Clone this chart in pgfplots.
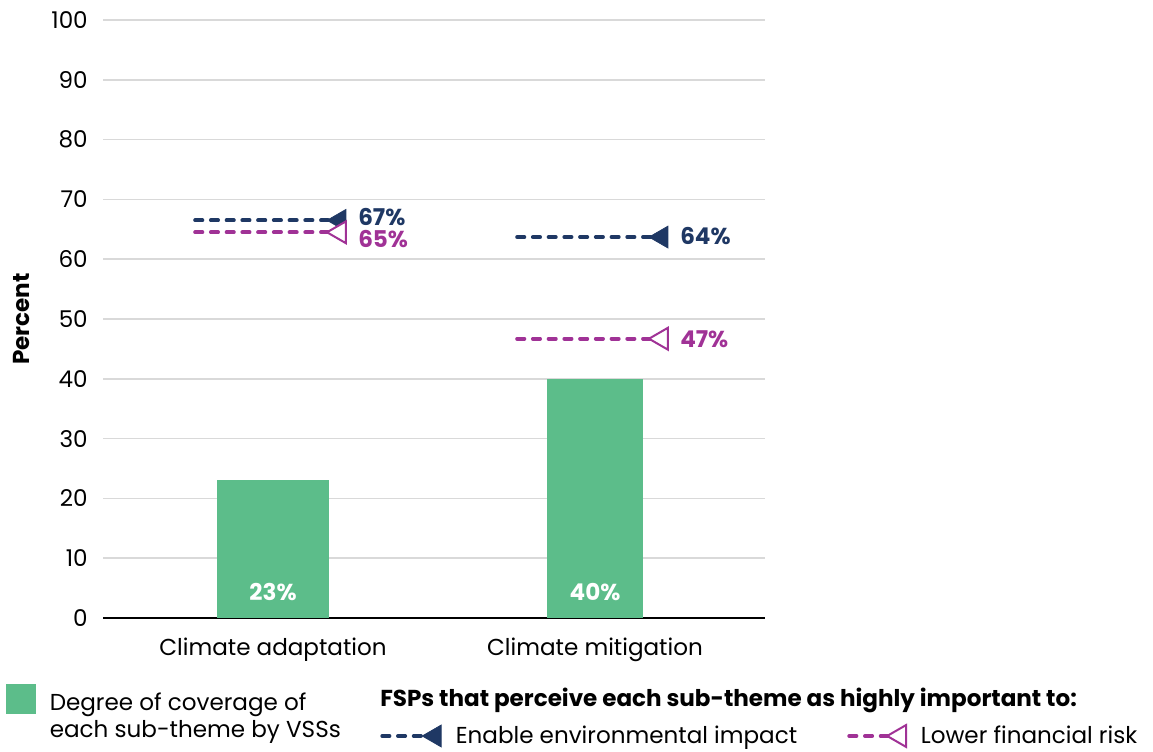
\documentclass[border=0pt]{standalone}
\usepackage{fontspec}
\setmainfont{Poppins}
\usepackage{pgfplots}
\pgfplotsset{compat=1.18}
\definecolor{barg}{RGB}{92,189,138}
\definecolor{navy}{RGB}{31,56,100}
\definecolor{mag}{RGB}{160,50,150}
\definecolor{gridg}{RGB}{217,217,217}
\newcommand\tfont{\fontsize{17.3bp}{20.25bp}\selectfont}
\newcommand\bfont{\fontsize{17.3bp}{20.25bp}\selectfont\bfseries}
\pgfplotsset{
  enablestyle/.style={navy, line width=2.8bp, dash pattern=on 5.5bp off 6.3bp, line cap=round,
    mark=triangle*, mark size=9.5bp, mark options={solid, rotate=90, fill=navy, draw=navy, line width=0.5bp}},
  lowerstyle/.style={mag, line width=2.8bp, dash pattern=on 5.5bp off 6.3bp, line cap=round,
    mark=triangle*, mark size=9.5bp, mark options={solid, rotate=90, fill=white, draw=mag, line width=1.5bp}},
  hiddenlegend/.style={at={(0bp,0bp)}, anchor=south west, scale only axis,
    width=864.75bp, height=564bp, hide axis, xmin=0, xmax=1, ymin=0, ymax=1,
    legend cell align=left,
    legend style={draw=none, fill=none, inner sep=0pt, column sep=11bp,
      font=\tfont, nodes={inner sep=0pt, align=left}}},
}
\begin{document}
\begin{tikzpicture}
\useasboundingbox (0bp,0bp) rectangle (864.75bp,564bp);
\begin{axis}[
  at={(77.25bp,100.5bp)}, anchor=south west,
  scale only axis, width=496.5bp, height=448.5bp,
  xmin=-0.528, xmax=1.528, ymin=0, ymax=100,
  axis x line=bottom, axis y line=left,
  x axis line style={-, black, line width=1.6bp},
  y axis line style={draw=none},
  ytick={0,10,...,100}, xtick={0,1},
  xticklabels={Climate adaptation, Climate mitigation},
  major tick length=0pt,
  ymajorgrids, grid style={gridg, line width=1.1bp},
  /pgf/number format/assume math mode=true,
  tick label style={font=\tfont, text=black},
  yticklabel style={inner sep=0pt, anchor=east, xshift=-11.25bp},
  xticklabel style={inner sep=0pt, anchor=north, yshift=-15bp},
  ylabel={Percent},
  ylabel style={font=\bfont, at={(axis description cs:-0.1224,0.5)}, anchor=center, rotate=0},
  clip=false,
]
\addplot[ybar, bar width=84bp, bar shift=0pt, fill=barg, draw=none] coordinates {(0,23)};
\addplot[ybar, bar width=72bp, bar shift=0pt, fill=barg, draw=none] coordinates {(1,40)};
\addplot[draw=none, mark=none, nodes near coords, point meta=explicit symbolic,
  every node near coord/.append style={anchor=center, inner sep=0pt, font=\bfont, text=white}]
  coordinates {(0,4.35)[23\%] (1,4.35)[40\%]};
% enable environmental impact
\addplot[enablestyle, mark indices={2}] coordinates {(-0.242,66.5) (0.207,66.5)};
\addplot[enablestyle, mark indices={2}] coordinates {(0.758,63.7) (1.207,63.7)};
% lower financial risk
\addplot[lowerstyle, mark indices={2}] coordinates {(-0.242,64.5) (0.207,64.5)};
\addplot[lowerstyle, mark indices={2}] coordinates {(0.758,46.7) (1.207,46.7)};
% value labels
\addplot[draw=none, mark=none, nodes near coords, point meta=explicit symbolic,
  every node near coord/.append style={anchor=west, inner sep=0pt, font=\bfont, text=navy}]
  coordinates {(0.264,67.1)[67\%] (1.264,63.9)[64\%]};
\addplot[draw=none, mark=none, nodes near coords, point meta=explicit symbolic,
  every node near coord/.append style={anchor=west, inner sep=0pt, font=\bfont, text=mag}]
  coordinates {(0.264,63.3)[65\%] (1.264,46.6)[47\%]};
\end{axis}
% legend: coverage
\begin{axis}[hiddenlegend, legend style={at={(axis description cs:0.0052,0.0532)}, anchor=west, column sep=10.5bp}]
\addlegendimage{legend image code/.code={\fill[barg] (0bp,2.25bp) rectangle (21.75bp,24bp);}}
\addlegendentry{Degree of coverage of\\each sub-theme by VSSs}
\end{axis}
% legend: enable
\begin{axis}[hiddenlegend, legend style={at={(axis description cs:0.3296,0.0213)}, anchor=west}]
\addlegendimage{enablestyle, legend image code/.code={\draw[##1, mark indices={2}] plot coordinates {(0bp,0bp) (39.5bp,0bp)};}}
\addlegendentry{Enable environmental impact}
\end{axis}
% legend: lower
\begin{axis}[hiddenlegend, legend style={at={(axis description cs:0.7346,0.0213)}, anchor=west}]
\addlegendimage{lowerstyle, legend image code/.code={\draw[##1, mark indices={2}] plot coordinates {(0bp,0bp) (38bp,0bp)};}}
\addlegendentry{Lower financial risk}
\end{axis}
\node[anchor=base west, inner sep=0pt, font=\bfont] at (285bp,34bp) {FSPs that perceive each sub-theme as highly important to:};
\end{tikzpicture}
\end{document}
